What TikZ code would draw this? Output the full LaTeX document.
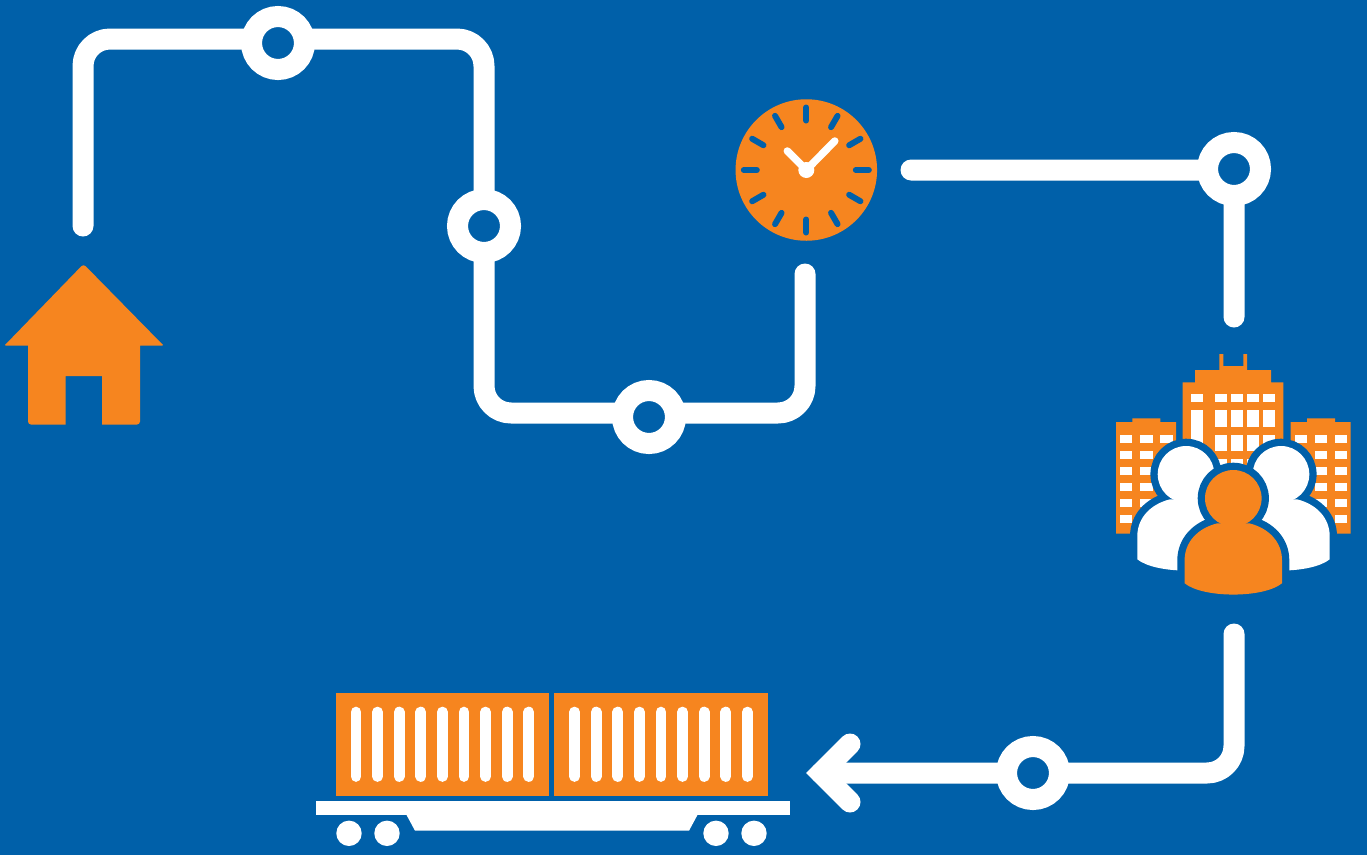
\documentclass[tikz,border=0pt]{standalone}
\definecolor{bgblue}{RGB}{0,96,169}
\definecolor{iconorange}{RGB}{246,133,31}
\begin{document}
\begin{tikzpicture}[x=1pt,y=-1pt,
  route/.style={draw=white, line width=21pt, line cap=round, line join=round, rounded corners=27pt},
  stop/.style={circle, draw=white, fill=bgblue, line width=21pt, minimum size=53pt, inner sep=0pt},
  tick/.style={draw=bgblue, line width=6pt, line cap=round},
  hand/.style={draw=white, line width=7.5pt, line cap=round},
  slot/.style={draw=white, line width=10.7pt, line cap=round},
  pane/.style={fill=white},
  person/.pic={
    \path[draw=bgblue, line width=14.6pt, line join=round] (0,0) circle (28.3);
    \path[draw=bgblue, line width=14.6pt, line join=round]
      (-16,25) .. controls (-36,30) and (-48.7,44) .. (-48.7,62) -- (-48.7,85)
      .. controls (-30,100) and (30,100) .. (48.7,85) -- (48.7,62)
      .. controls (48.7,44) and (36,30) .. (16,25) -- cycle;
    \fill[pic actions] (0,0) circle (28.3);
    \fill[pic actions]
      (-16,25) .. controls (-36,30) and (-48.7,44) .. (-48.7,62) -- (-48.7,85)
      .. controls (-30,100) and (30,100) .. (48.7,85) -- (48.7,62)
      .. controls (48.7,44) and (36,30) .. (16,25) -- cycle;
  }]
\fill[bgblue] (0,0) rectangle (1367,855);
\useasboundingbox (0,0) rectangle (1367,855);
% house
\fill[iconorange, rounded corners=3pt] (83.5,264) [rounded corners=1pt] -- (163.5,345.5) [sharp corners] -- (140,345.5) [rounded corners=3pt] -- (140,424.5) [sharp corners] -- (102,424.5) -- (102,376) -- (65.7,376) -- (65.7,424.5) [rounded corners=3pt] -- (28,424.5) [sharp corners] -- (28,345.5) [rounded corners=1pt] -- (4.5,345.5) [rounded corners=3pt] -- cycle;
% routes
\coordinate (homeend) at (83,226);
\coordinate (cornera) at (83,39);
\coordinate (cornerb) at (484,39);
\coordinate (cornerc) at (484,413);
\coordinate (cornerd) at (805,413);
\coordinate (clockin) at (805,274);
\coordinate (clockout) at (911,170);
\coordinate (cornere) at (1234,170);
\coordinate (cityin) at (1234,317);
\coordinate (cityout) at (1234,634);
\coordinate (cornerf) at (1234,773);
\coordinate (arrowtip) at (821,773);
\coordinate (arrowup) at (850,744);
\coordinate (arrowdown) at (850,802);
\draw[route] (homeend) -- (cornera) -- (cornerb) -- (cornerc) -- (cornerd) -- (clockin);
\draw[route] (clockout) -- (cornere) -- (cityin);
\draw[route] (cityout) -- (cornerf) -- (arrowtip);
\draw[draw=white, line width=21pt, line cap=round, miter limit=4] (arrowup) -- (arrowtip) -- (arrowdown);
\node[stop] (stopa) at (278,43) {};
\node[stop] (stopb) at (484,226) {};
\node[stop] (stopc) at (649,417) {};
\node[stop] (stopd) at (1234,169) {};
\node[stop] (stope) at (1033,773) {};
% clock
\node[circle, fill=iconorange, minimum size=141.5pt, inner sep=0pt] (clock) at (806.3,170) {};
\foreach \a in {0,30,...,330}
  \draw[tick] (clock.center) ++(\a:49.5) -- ++(\a:13);
\draw[hand] (clock.center) -- ++(28.5,-29);
\draw[hand] (clock.center) -- ++(-19,-19);
\fill[white] (clock.center) circle (8);
% train
\foreach \cx in {335.7,554.3} {
  \fill[iconorange] (\cx,693.3) rectangle ++(213.5,102.7);
  \foreach \i in {0,...,8}
    \draw[slot] ({\cx+20.3+21.6*\i},712) -- ({\cx+20.3+21.6*\i},776.5);
}
\fill[white] (316,801) rectangle (790,814.7);
\fill[white] (406,814) -- (415,830.7) -- (689,830.7) -- (698,814) -- cycle;
\foreach \wx in {349,387,716,754}
  \fill[white] (\wx,833.3) circle (12.7);
% city
\fill[iconorange] (1116,533.7) -- (1116,422) -- (1132.3,422) -- (1132.3,418.3) -- (1160.3,418.3) -- (1160.3,422) -- (1176,422) -- (1176,533.7) -- cycle;
\fill[iconorange] (1290.7,533.7) -- (1290.7,422) -- (1307,422) -- (1307,418.3) -- (1335,418.3) -- (1335,422) -- (1350.7,422) -- (1350.7,533.7) -- cycle;
\fill[iconorange] (1182.7,533.7) -- (1182.7,382.3) -- (1195,382.3) -- (1195,370) -- (1219.3,370) -- (1219.3,354) -- (1223.3,354) -- (1223.3,366) -- (1243.3,366) -- (1243.3,354) -- (1247,354) -- (1247,370) -- (1271,370) -- (1271,382.3) -- (1283.3,382.3) -- (1283.3,533.7) -- cycle;
\foreach \wy in {434.7,450.7,467,483,499,515} {
  \foreach \wx in {1120,1140.3,1160.3,1294.7,1315,1335}
    \fill[pane] (\wx,\wy) rectangle ++(12.3,8);
}
\foreach \wx in {1215,1231,1247.3,1263.3} {
  \fill[pane] (\wx,394.3) rectangle ++(12,8);
  \fill[pane] (\wx,410) rectangle ++(12,16.7);
  \fill[pane] (\wx,434.7) rectangle ++(12,16);
  \fill[pane] (\wx,458.7) rectangle ++(12,16);
}
\fill[pane] (1190.7,394.3) rectangle ++(12,8);
\fill[pane] (1190.7,410) rectangle ++(12,50);
\pic[white] at (1186,474.3) {person};
\pic[white] at (1281,474.3) {person};
\pic[iconorange] at (1233.3,498.3) {person};
\end{tikzpicture}
\end{document}
